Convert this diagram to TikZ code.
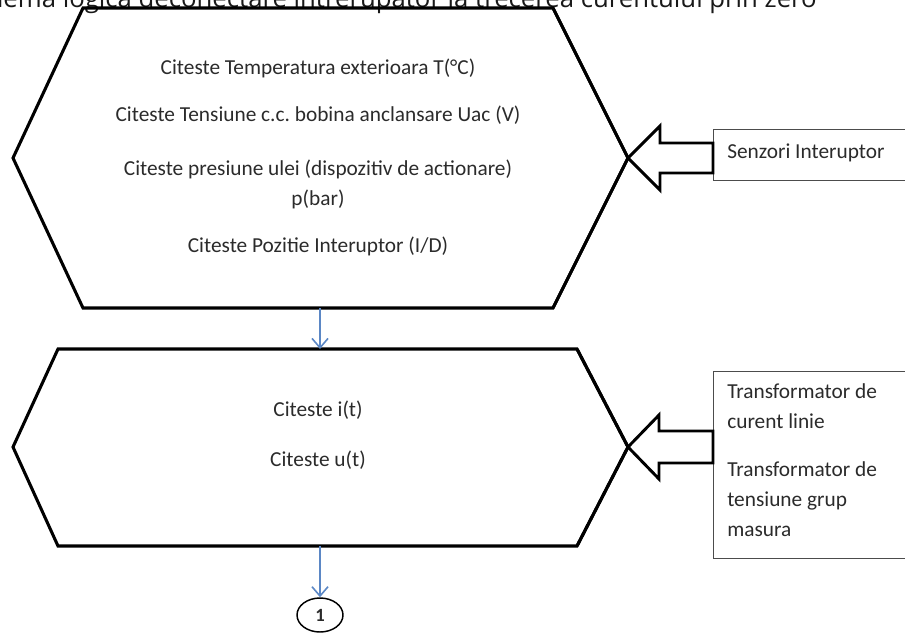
\documentclass[tikz,border=0pt]{standalone}
\usepackage{fontspec}
\setmainfont{Carlito}
\newfontfamily\titlefont{Open Sans}
\usetikzlibrary{arrows.meta,shapes.geometric}
\definecolor{flowblue}{HTML}{5B87C5}
\definecolor{ink}{HTML}{2B2B2B}
\tikzset{
  hexline/.style={draw=black, line width=2.3pt, line join=miter},
  blockarrow/.style={draw=black, fill=white, line width=2.2pt, line join=miter},
  infobox/.style={draw=black!70, line width=1.1pt, fill=white, anchor=north west, inner sep=0pt},
  flow/.style={draw=flowblue, line width=1.2pt, -{Straight Barb[length=7pt,width=12pt,line width=1.2pt]}},
  body/.style={font=\fontsize{16}{19}\selectfont, text=ink, inner sep=0pt},
  boxtext/.style={font=\fontsize{16}{22.5}\selectfont, text=ink, inner sep=0pt, anchor=north west, align=left},
}
\begin{document}
\begin{tikzpicture}[x=0.75pt,y=-0.75pt]
  \useasboundingbox (0,0) rectangle (905,635);
  \clip (0,0) rectangle (905,635);

  % heading, partly cut by the page edge
  \node[anchor=base east, inner sep=0pt, font=\titlefont\fontsize{19.3}{23}\selectfont, text=black!90] (title) at (817,8)
    {Schema logica deconectare intrerupator la trecerea curentului prin zero};

  % input blocks on the right
  \node[infobox, minimum width=200pt, minimum height=38.25pt] (senz) at (713,129) {};
  \node[body, anchor=west] (senztxt) at (727,153) {Senzori Interuptor};
  \node[infobox, minimum width=200pt, minimum height=140.25pt] (trafo) at (713,371) {};
  \node[boxtext] (trafotxt) at (727,383)
    {Transformator de\\curent linie\\[13.5pt]Transformator de\\tensiune grup\\masura};

  % first step: read breaker state
  \coordinate (tip1) at (628,158);
  \draw[hexline] (83,8) -- (553,8) -- (tip1) -- (553,308) -- (83,308) -- (13,158) -- cycle;
  \node[body] (l1) at (318,68) {Citeste Temperatura exterioara T(\textdegree C)};
  \node[body] (l2) at (318,115) {Citeste Tensiune c.c.\ bobina anclansare Uac (V)};
  \node[body, align=center, font=\fontsize{16}{22.5}\selectfont] (l3) at (318,184)
    {Citeste presiune ulei (dispozitiv de actionare)\\p(bar)};
  \node[body] (l4) at (318,246) {Citeste Pozitie Interuptor (I/D)};

  % second step: read current and voltage
  \coordinate (tip2) at (628,447);
  \draw[hexline] (58,349) -- (577,349) -- (tip2) -- (577,546) -- (58,546) -- (13,447) -- cycle;
  \node[body] (m1) at (318,410) {Citeste i(t)};
  \node[body] (m2) at (318,460) {Citeste u(t)};

  % block arrows feeding the steps
  \draw[blockarrow] (tip1) -- ++(32,-32) -- ++(0,17) -- (senz.west |- 0,143) -- (senz.west |- 0,173)
    -- ++(-53,0) -- ++(0,17) -- cycle;
  \draw[blockarrow] (tip2) -- ++(31,-32) -- ++(0,16) -- (trafo.west |- 0,431) -- (trafo.west |- 0,463)
    -- ++(-54,0) -- ++(0,16) -- cycle;
  % hexagon edges crossing the arrow heads
  \draw[hexline] (553,8) -- (tip1) -- (553,308);
  \draw[hexline] (577,349) -- (tip2) -- (577,546);

  % flow between steps
  \coordinate (h1s) at (320,308);
  \coordinate (h2n) at (320,349);
  \coordinate (h2s) at (320,546);
  \node[draw=black, line width=1.1pt, ellipse, minimum width=34.5pt, minimum height=25.5pt, inner sep=0pt,
        font=\bfseries\fontsize{14}{16}\selectfont, text=ink] (c1) at (320,615) {1};
  \draw[flow] (h1s) -- (h2n);
  \draw[flow] (h2s) -- (c1.north);
\end{tikzpicture}
\end{document}
